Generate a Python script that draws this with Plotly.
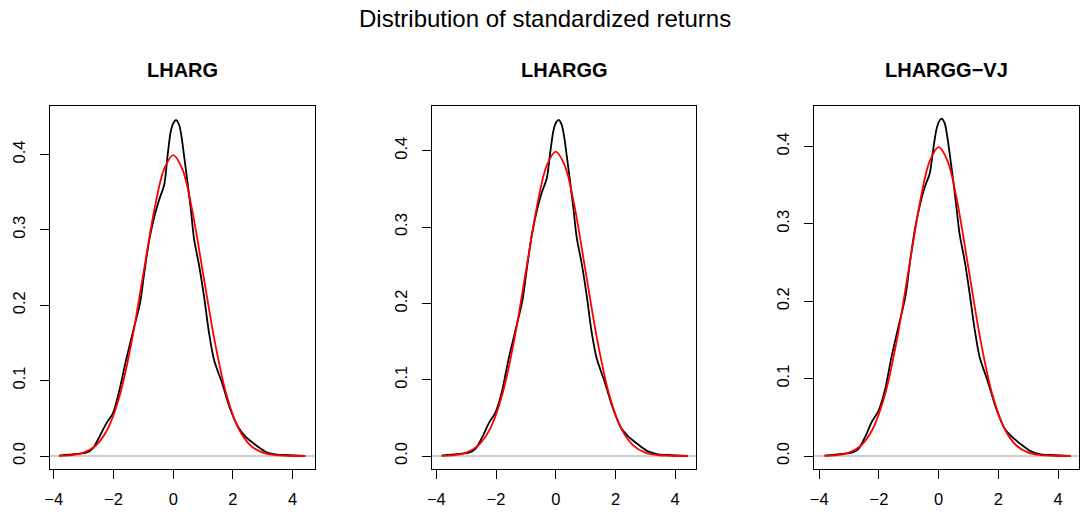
import plotly.graph_objects as go

# ---- data ----
panel_titles = ["LHARG", "LHARGG", "LHARGG\u2212VJ"]
main_title = "Distribution of standardized returns"

emp_x = [-3.82, -3.24, -2.91, -2.69, -2.47, -2.24, -2.02, -1.80, -1.58, -1.36, -1.11, -0.97,
         -0.80, -0.63, -0.47, -0.30, -0.19, -0.08, 0.01, 0.10, 0.20, 0.28, 0.37, 0.48, 0.59,
         0.70, 0.87, 1.03, 1.20, 1.37, 1.64, 1.92, 2.20, 2.42, 2.76, 3.09, 3.42, 3.87, 4.42]
emp_lharg = [0.0005, 0.0027, 0.0044, 0.0102, 0.0256, 0.0433, 0.0566, 0.0875, 0.127, 0.163, 0.203,
             0.243, 0.287, 0.318, 0.340, 0.360, 0.398, 0.431, 0.442, 0.4456, 0.439, 0.423, 0.396,
             0.3625, 0.327, 0.287, 0.252, 0.212, 0.163, 0.127, 0.0964, 0.061, 0.0367, 0.0256,
             0.0146, 0.0057, 0.0022, 0.0012, 0.0]
emp_lhargg = [0.0005, 0.0027, 0.0044, 0.0095, 0.024, 0.043, 0.057, 0.085, 0.127, 0.163, 0.205,
              0.245, 0.290, 0.322, 0.345, 0.364, 0.396, 0.426, 0.437, 0.4406, 0.434, 0.419,
              0.393, 0.360, 0.325, 0.287, 0.252, 0.212, 0.163, 0.128, 0.097, 0.062, 0.036,
              0.026, 0.015, 0.006, 0.0022, 0.0012, 0.0]
emp_lhargg_vj = [0.0005, 0.0027, 0.0044, 0.009, 0.024, 0.044, 0.058, 0.085, 0.128, 0.165, 0.207,
                 0.248, 0.292, 0.324, 0.347, 0.365, 0.394, 0.421, 0.432, 0.4358, 0.430, 0.415,
                 0.390, 0.358, 0.323, 0.287, 0.252, 0.212, 0.165, 0.128, 0.097, 0.062, 0.036,
                 0.026, 0.015, 0.006, 0.0022, 0.0012, 0.0]

norm_x = [-3.82, -3.4, -3.0, -2.6, -2.2, -1.8, -1.4, -1.0, -0.6, -0.3, 0.0, 0.3, 0.6, 1.0,
          1.4, 1.8, 2.2, 2.6, 3.0, 3.4, 3.8, 4.42]
norm_y = [0.0003, 0.0012, 0.0044, 0.0136, 0.0355, 0.079, 0.150, 0.242, 0.333, 0.381, 0.399,
          0.381, 0.333, 0.242, 0.150, 0.079, 0.0355, 0.0136, 0.0044, 0.0012, 0.0003, 0.0]

x_ticks = [-4, -2, 0, 2, 4]
y_ticks = [0.0, 0.1, 0.2, 0.3, 0.4]

emp_series = [emp_lharg, emp_lhargg, emp_lhargg_vj]

# ---- layout geometry ----
W, H = 1083, 512
x_domains = [[45 / W, 311 / W], [428.7 / W, 694.7 / W], [812.7 / W, 1079 / W]]
y_domain = [1 - 469 / H, 1 - 106 / H]
x_ranges = [[-4.133, 4.733], [-4.153, 4.713], [-4.177, 4.70]]
y_ranges = [[-0.01724, 0.4642], [-0.01704, 0.4587], [-0.0168, 0.4522]]

FONT = "Liberation Sans, Arial, Helvetica, sans-serif"

fig = go.Figure()
layout = dict(
    width=W, height=H,
    margin=dict(l=0, r=0, t=0, b=0),
    paper_bgcolor="white", plot_bgcolor="white",
    showlegend=False,
    font=dict(family=FONT, color="black"),
)

shapes = []
annotations = []
for i in range(3):
    sx = "" if i == 0 else str(i + 1)
    xa, ya = "x" + sx, "y" + sx
    # zero reference line
    shapes.append(dict(type="line", xref=xa + " domain", yref=ya, x0=0, x1=1, y0=0, y1=0,
                       line=dict(color="#BEBEBE", width=1.5), layer="below"))
    fig.add_trace(go.Scatter(x=emp_x, y=emp_series[i], mode="lines", xaxis=xa, yaxis=ya,
                             line=dict(color="black", width=1.8, shape="spline", smoothing=0.8),
                             hoverinfo="skip"))
    fig.add_trace(go.Scatter(x=norm_x, y=norm_y, mode="lines", xaxis=xa, yaxis=ya,
                             line=dict(color="#FF0000", width=1.8, shape="spline", smoothing=1.0),
                             hoverinfo="skip"))
    layout["xaxis" + sx] = dict(
        domain=x_domains[i], range=x_ranges[i], anchor=ya,
        showgrid=False, zeroline=False, showline=True, mirror=True,
        linecolor="black", linewidth=1.3,
        ticks="outside", ticklen=9, tickwidth=1.3, tickcolor="black",
        ticklabelstandoff=6,
        tickvals=x_ticks, tickfont=dict(family=FONT, size=16.5, color="black"),
    )
    layout["yaxis" + sx] = dict(
        domain=y_domain, range=y_ranges[i], anchor=xa,
        showgrid=False, zeroline=False, showline=True, mirror=True,
        linecolor="black", linewidth=1.3,
        ticks="outside", ticklen=9, tickwidth=1.3, tickcolor="black",
        ticklabelstandoff=8,
        tickvals=y_ticks, tickformat=".1f", tickangle=-90,
        tickfont=dict(family=FONT, size=16.5, color="black"),
    )
    annotations.append(dict(text="<b>%s</b>" % panel_titles[i], xref="paper", yref="paper",
                            x=sum(x_domains[i]) / 2, y=1 - 69.7 / H, xanchor="center",
                            yanchor="middle", showarrow=False,
                            font=dict(family=FONT, size=20, color="black")))

annotations.append(dict(text=main_title, xref="paper", yref="paper", x=542.5 / W, y=1 - 18 / H,
                        xanchor="center", yanchor="middle", showarrow=False,
                        font=dict(family=FONT, size=24, color="black")))

layout["shapes"] = shapes
layout["annotations"] = annotations
fig.update_layout(**layout)
fig.write_html("out.html")
